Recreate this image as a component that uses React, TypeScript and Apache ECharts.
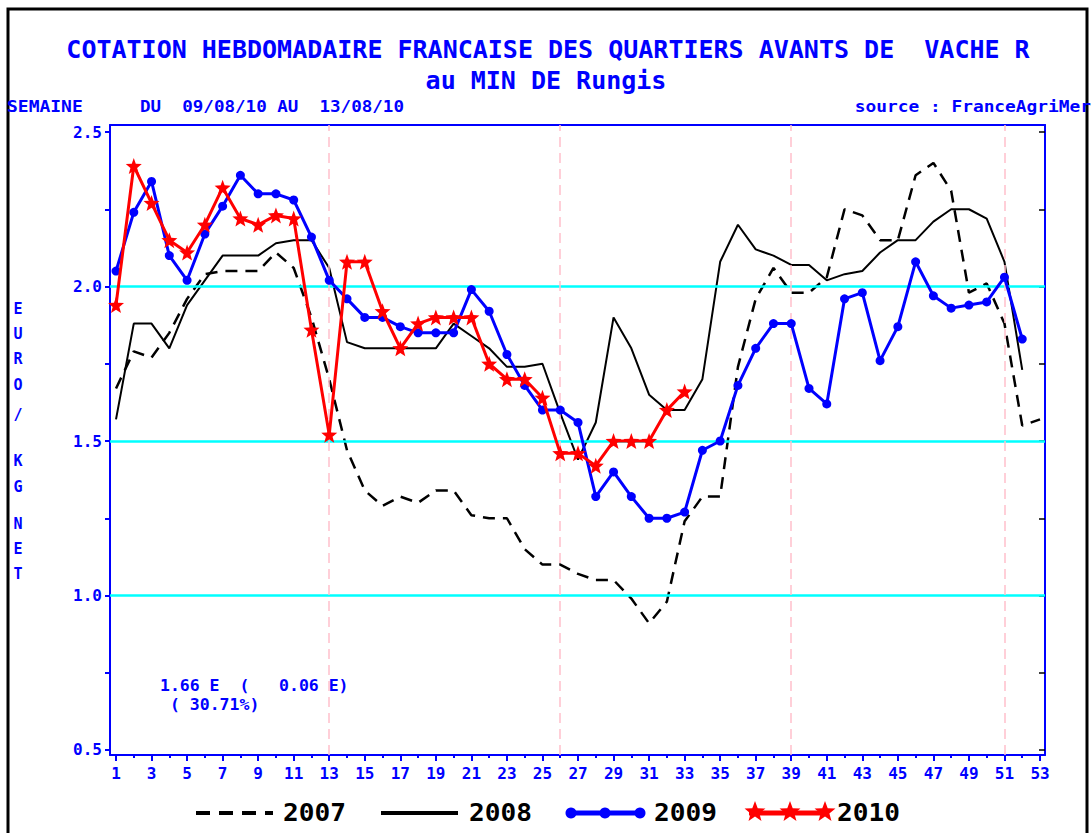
import React, { useEffect, useRef } from "react";
import * as echarts from "echarts";

// ---------- data ----------
const WEEKS = [1, 2, 3, 4, 5, 6, 7, 8, 9, 10, 11, 12, 13, 14, 15, 16, 17, 18, 19, 20, 21, 22, 23, 24, 25, 26, 27,
  28, 29, 30, 31, 32, 33, 34, 35, 36, 37, 38, 39, 40, 41, 42, 43, 44, 45, 46, 47, 48, 49, 50, 51, 52, 53];
const X_LABEL_WEEKS = [1, 3, 5, 7, 9, 11, 13, 15, 17, 19, 21, 23, 25, 27, 29, 31, 33, 35, 37, 39, 41, 43, 45, 47, 49, 51, 53];
const X_MINOR_WEEKS = [2, 4, 6, 8, 10, 12, 14, 16, 18, 20, 22, 24, 26, 28, 30, 32, 34, 36, 38, 40, 42, 44, 46, 48, 50, 52];
const Y_LABEL_VALUES = [0.5, 1.0, 1.5, 2.0, 2.5];
const Y_TICK_VALUES = [0.5, 0.75, 1.0, 1.25, 1.5, 1.75, 2.0, 2.25, 2.5];
const REF_LEVELS = [1.0, 1.5, 2.0];
const PERIOD_WEEKS = [13, 26, 39, 51];

const S2007 = [1.67, 1.79, 1.77, 1.85, 1.96, 2.04, 2.05, 2.05, 2.05, 2.11, 2.06, 1.9, 1.7, 1.47, 1.34, 1.29, 1.32, 1.3,
  1.34, 1.34, 1.26, 1.25, 1.25, 1.15, 1.1, 1.1, 1.07, 1.05, 1.05, 0.99, 0.91, 0.98, 1.24, 1.32, 1.32, 1.74, 1.96, 2.06,
  1.98, 1.98, 2.03, 2.25, 2.23, 2.15, 2.15, 2.36, 2.4, 2.31, 1.98, 2.01, 1.88, 1.55, 1.57];
const S2008 = [1.57, 1.88, 1.88, 1.8, 1.94, 2.02, 2.1, 2.1, 2.1, 2.14, 2.15, 2.15, 2.06, 1.82, 1.8, 1.8, 1.8, 1.8, 1.8,
  1.88, 1.84, 1.8, 1.74, 1.74, 1.75, 1.59, 1.44, 1.56, 1.9, 1.8, 1.65, 1.6, 1.6, 1.7, 2.08, 2.2, 2.12, 2.1, 2.07, 2.07,
  2.02, 2.04, 2.05, 2.11, 2.15, 2.15, 2.21, 2.25, 2.25, 2.22, 2.08, 1.73];
const S2009 = [2.05, 2.24, 2.34, 2.1, 2.02, 2.17, 2.26, 2.36, 2.3, 2.3, 2.28, 2.16, 2.02, 1.96, 1.9, 1.9, 1.87, 1.85,
  1.85, 1.85, 1.99, 1.92, 1.78, 1.68, 1.6, 1.6, 1.56, 1.32, 1.4, 1.32, 1.25, 1.25, 1.27, 1.47, 1.5, 1.68, 1.8, 1.88,
  1.88, 1.67, 1.62, 1.96, 1.98, 1.76, 1.87, 2.08, 1.97, 1.93, 1.94, 1.95, 2.03, 1.83];
const S2010 = [1.94, 2.39, 2.27, 2.15, 2.11, 2.2, 2.32, 2.22, 2.2, 2.23, 2.22, 1.86, 1.52, 2.08, 2.08, 1.92, 1.8, 1.88,
  1.9, 1.9, 1.9, 1.75, 1.7, 1.7, 1.64, 1.46, 1.46, 1.42, 1.5, 1.5, 1.5, 1.6, 1.66];

const SERIES_NAMES = ["2007", "2008", "2009", "2010"];
const TITLE_1 = "COTATION HEBDOMADAIRE FRANCAISE DES QUARTIERS AVANTS DE  VACHE R";
const TITLE_2 = "au MIN DE Rungis";
const SUB_LEFT = "SEMAINE";
const SUB_DATES = "DU  09/08/10 AU  13/08/10";
const SUB_SOURCE = "source : FranceAgriMer";
const Y_TITLE_LETTERS = ["E", "U", "R", "O", "/", "K", "G", "N", "E", "T"];
const NOTE_1 = "1.66 E  (   0.06 E)";
const NOTE_2 = "( 30.71%)";

// ---------- style ----------
const BLUE = "#0000FF";
const RED = "#FF0000";
const MONO = "'DejaVu Sans Mono', monospace";
const STAR = "path://M12,0 L15,8.5 L24,9 L17,15 L19.5,24 L12,19 L4.5,24 L7,15 L0,9 L9,8.5 Z";

const toPairs = (vals: number[]) => vals.map((v, i) => [WEEKS[i], v]);

const starPoints = (cx: number, cy: number, r: number) => {
  const pts: number[][] = [];
  for (let i = 0; i < 10; i++) {
    const rr = i % 2 === 0 ? r : r * 0.42;
    const a = -Math.PI / 2 + (i * Math.PI) / 5;
    pts.push([cx + rr * Math.cos(a), cy + rr * Math.sin(a)]);
  }
  return pts;
};

const txt = (x: number, y: number, text: string, size: number, align: string, fill: string, scaleX = 1) => ({
  type: "text",
  x,
  y,
  scaleX,
  style: { text, fill, font: `bold ${size}px ${MONO}`, textAlign: align, textVerticalAlign: "middle" },
});

export default function App() {
  const ref = useRef<HTMLDivElement>(null);

  useEffect(() => {
    document.body.style.margin = "0";
    const chart = echarts.init(ref.current!, null, { renderer: "svg" });

    const yLetterY = [309, 334, 359, 385, 415, 461, 487, 524, 549, 574];
    const legendY = 813;

    const graphic: any[] = [
      { type: "rect", shape: { x: 8, y: 9, width: 1079, height: 900 }, style: { fill: "none", stroke: "#000", lineWidth: 3 } },
      txt(548, 49, TITLE_1, 25, "center", BLUE),
      txt(546, 80, TITLE_2, 25, "center", BLUE),
      txt(7, 107, SUB_LEFT, 15, "left", BLUE, 1.2),
      txt(140, 107, SUB_DATES, 15, "left", BLUE, 1.17),
      txt(1091, 107, SUB_SOURCE, 15, "right", BLUE, 1.19),
      ...Y_TITLE_LETTERS.map((ch, i) => txt(18, yLetterY[i], ch, 15, "center", BLUE)),
      txt(160, 686, NOTE_1, 15, "left", BLUE, 1.1),
      txt(170, 705, NOTE_2, 15, "left", BLUE, 1.1),
      // legend
      { type: "line", shape: { x1: 196, y1: legendY, x2: 273, y2: legendY }, style: { stroke: "#000", lineWidth: 4, lineDash: [14, 9] } },
      txt(283, legendY, SERIES_NAMES[0], 24, "left", "#000", 1.09),
      { type: "line", shape: { x1: 381, y1: legendY, x2: 458, y2: legendY }, style: { stroke: "#000", lineWidth: 4 } },
      txt(469, legendY, SERIES_NAMES[1], 24, "left", "#000", 1.09),
      { type: "line", shape: { x1: 567, y1: legendY, x2: 644, y2: legendY }, style: { stroke: BLUE, lineWidth: 5 } },
      ...[571, 605, 640].map((cx) => ({ type: "circle", shape: { cx, cy: legendY, r: 5.5 }, style: { fill: BLUE } })),
      txt(654, legendY, SERIES_NAMES[2], 24, "left", "#000", 1.09),
      { type: "line", shape: { x1: 749, y1: legendY, x2: 829, y2: legendY }, style: { stroke: RED, lineWidth: 5 } },
      ...[755, 790, 825].map((cx) => ({ type: "polygon", shape: { points: starPoints(cx, legendY - 1, 11) }, style: { fill: RED } })),
      txt(837, legendY, SERIES_NAMES[3], 24, "left", "#000", 1.09),
    ];

    const xMin = 0.662;
    const xMax = 53.281;
    const yMin = 0.4838;
    const yMax = 2.5227;

    const option: any = {
      animation: false,
      backgroundColor: "#fff",
      grid: { left: 110, right: 47, top: 125, bottom: 78, containLabel: false },
      xAxis: [
        {
          type: "value", position: "bottom", min: xMin, max: xMax,
          axisLine: { show: true, lineStyle: { color: BLUE, width: 2 } },
          axisTick: { show: true, customValues: X_LABEL_WEEKS, length: 6, lineStyle: { color: BLUE, width: 2 } },
          axisLabel: {
            show: true, customValues: X_LABEL_WEEKS, color: BLUE, fontWeight: "bold", fontSize: 16,
            fontFamily: MONO, margin: 10, formatter: (v: number) => String(Math.round(v)),
          },
          splitLine: { show: false },
        },
        {
          type: "value", position: "top", min: xMin, max: xMax,
          axisLine: { show: true, lineStyle: { color: BLUE, width: 2 } },
          axisTick: { show: false }, axisLabel: { show: false }, splitLine: { show: false },
        },
        {
          type: "value", position: "bottom", min: xMin, max: xMax,
          axisLine: { show: false },
          axisTick: { show: true, customValues: X_MINOR_WEEKS, length: 3, lineStyle: { color: BLUE, width: 2 } },
          axisLabel: { show: false }, splitLine: { show: false },
        },
      ],
      yAxis: [
        {
          type: "value", position: "left", min: yMin, max: yMax,
          axisLine: { show: true, lineStyle: { color: BLUE, width: 2 } },
          axisTick: { show: true, customValues: Y_TICK_VALUES, length: 5, lineStyle: { color: BLUE, width: 2 } },
          axisLabel: {
            show: true, customValues: Y_LABEL_VALUES, color: BLUE, fontWeight: "bold", fontSize: 16,
            fontFamily: MONO, margin: 8, formatter: (v: number) => v.toFixed(1),
          },
          splitLine: { show: false },
        },
        {
          type: "value", position: "right", min: yMin, max: yMax,
          axisLine: { show: true, lineStyle: { color: BLUE, width: 2 } },
          axisTick: { show: true, inside: true, customValues: Y_TICK_VALUES, length: 6, lineStyle: { color: "#000", width: 1.5 } },
          axisLabel: { show: false }, splitLine: { show: false },
        },
      ],
      graphic,
      series: [
        {
          name: "ref", type: "line", data: [], z: 1, silent: true, symbol: "none",
          markLine: {
            silent: true, symbol: "none", label: { show: false }, animation: false,
            emphasis: { disabled: true },
            data: [
              ...REF_LEVELS.map((v) => ({ yAxis: v, lineStyle: { color: "#00FFFF", width: 2.5, type: "solid" } })),
              ...PERIOD_WEEKS.map((w) => ({ xAxis: w, lineStyle: { color: "#FFC0CB", width: 1.5, type: [10, 6] } })),
            ],
          },
        },
        {
          name: SERIES_NAMES[0], type: "line", data: toPairs(S2007), symbol: "none", z: 3,
          lineStyle: { color: "#000", width: 2.5, type: [12, 8] },
        },
        {
          name: SERIES_NAMES[1], type: "line", data: toPairs(S2008), symbol: "none", z: 4,
          lineStyle: { color: "#000", width: 2 },
        },
        {
          name: SERIES_NAMES[2], type: "line", data: toPairs(S2009), symbol: "circle", symbolSize: 9, z: 5,
          itemStyle: { color: BLUE }, lineStyle: { color: BLUE, width: 3 },
        },
        {
          name: SERIES_NAMES[3], type: "line", data: toPairs(S2010), symbol: STAR, symbolSize: 16, z: 6,
          itemStyle: { color: RED }, lineStyle: { color: RED, width: 3 },
        },
      ],
    };

    chart.setOption(option);
    return () => chart.dispose();
  }, []);

  return <div ref={ref} style={{ width: 1092, height: 833 }} />;
}
